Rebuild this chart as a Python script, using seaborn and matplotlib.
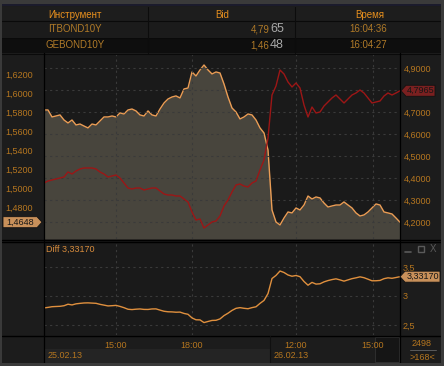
import seaborn as sns
import matplotlib.pyplot as plt
import pandas as pd
from matplotlib.patches import Rectangle, Polygon
from matplotlib.lines import Line2D
from matplotlib.ticker import FuncFormatter

# GEBOND10Y (left axis) and ITBOND10Y (right axis), one value per bar
ge_vals = [1.5823, 1.5823, 1.5750, 1.5760, 1.5771, 1.5718, 1.5687, 1.5718, 1.5666, 1.5676,
           1.5655, 1.5635, 1.5676, 1.5666, 1.5708, 1.5750, 1.5750, 1.5760, 1.5750, 1.5792,
           1.5781, 1.5823, 1.5833, 1.5813, 1.5771, 1.5760, 1.5813, 1.5771, 1.5760, 1.5833,
           1.5896, 1.5938, 1.5959, 1.5970, 1.5949, 1.6043, 1.6053, 1.6221, 1.6179, 1.6242,
           1.6294, 1.6242, 1.6200, 1.6221, 1.6210, 1.6095, 1.5959, 1.5844, 1.5802, 1.5729,
           1.5750, 1.5781, 1.5771, 1.5718, 1.5635, 1.5582, 1.5404, 1.4776, 1.4650, 1.4619,
           1.4692, 1.4755, 1.4745, 1.4797, 1.4776, 1.4828, 1.4922, 1.4891, 1.4912, 1.4902,
           1.4849, 1.4807, 1.4818, 1.4828, 1.4828, 1.4860, 1.4828, 1.4797, 1.4745, 1.4713,
           1.4724, 1.4755, 1.4797, 1.4839, 1.4828, 1.4755, 1.4745, 1.4734, 1.4692, 1.4648]
it_vals = [4.3773, 4.3864, 4.3909, 4.3955, 4.4000, 4.4045, 4.4273, 4.4182, 4.4318, 4.4409,
           4.4455, 4.4455, 4.4455, 4.4409, 4.4273, 4.4182, 4.4045, 4.4091, 4.4136, 4.4000,
           4.3773, 4.3545, 4.3500, 4.3545, 4.3545, 4.3455, 4.3500, 4.3545, 4.3545, 4.3409,
           4.3273, 4.3227, 4.3227, 4.3182, 4.3182, 4.3045, 4.2909, 4.2455, 4.2091, 4.2136,
           4.1727, 4.1864, 4.2000, 4.2045, 4.2273, 4.2727, 4.3000, 4.3364, 4.3682, 4.3727,
           4.3636, 4.3591, 4.3773, 4.3864, 4.4364, 4.4818, 4.5818, 4.7773, 4.8182, 4.8909,
           4.8727, 4.8364, 4.8136, 4.8318, 4.8091, 4.7318, 4.6773, 4.7227, 4.6955, 4.7000,
           4.7273, 4.7455, 4.7636, 4.7773, 4.7591, 4.7409, 4.7591, 4.7773, 4.7864, 4.8000,
           4.7864, 4.7636, 4.7409, 4.7455, 4.7500, 4.7727, 4.7864, 4.7773, 4.7864, 4.7965]

time_ticks = [18, 37, 63, 82.25]
time_labels = ["15:00", "18:00", "12:00", "15:00"]
day_starts = [0, 56.5]
day_labels = ["25.02.13", "26.02.13"]

instruments = ["ITBOND10Y", "GEBOND10Y"]
bids = ["4,7965", "1,4648"]
quote_times = ["16:04:36", "16:04:27"]
headers = ["Инструмент", "Bid", "Время"]

df = pd.DataFrame({"idx": range(len(ge_vals)), "ge": ge_vals, "it": it_vals})
df["diff"] = df["it"] - df["ge"]

BG = "#1c1c1c"
PANEL = "#1a1a1a"
FRAME = "#3a3a3a"
FILL = "#48453d"
ORANGE = "#eb9d55"
RED = "#9c1616"
TICK = "#b5761f"
HEAD = "#e8901e"
GRID = "#3a3a3a"

sns.set_theme(style="dark")
plt.rcParams["font.family"] = ["Liberation Sans", "DejaVu Sans"]

W, H = 444, 366
fig = plt.figure(figsize=(W / 100, H / 100), dpi=100, facecolor=BG)


def px_rect(x0, y0, x1, y1):
    return [x0 / W, 1 - y1 / H, (x1 - x0) / W, (y1 - y0) / H]


def box(x0, y0, x1, y1, fc, ec="none", z=1, lw=0.7):
    fig.add_artist(Rectangle((x0 / W, 1 - y1 / H), (x1 - x0) / W, (y1 - y0) / H,
                             transform=fig.transFigure, fc=fc, ec=ec, lw=lw, zorder=z))


def fline(x0, y0, x1, y1, color="#000000", lw=0.9, z=4):
    fig.add_artist(Line2D([x0 / W, x1 / W], [1 - y0 / H, 1 - y1 / H],
                          transform=fig.transFigure, color=color, lw=lw, zorder=z))


def ftext(x, y, s, **kw):
    fig.text(x / W, 1 - y / H, s, **kw)


def fmt_dec(d, last, step):
    # the price tag covers the tick label next to the last value
    return FuncFormatter(lambda v, p: "" if abs(v - last) < step / 2
                         else f"{v:.{d}f}".replace(".", ","))


# main panel
ax = fig.add_axes(px_rect(44, 54, 400, 239))
ax2 = ax.twinx()
axd = fig.add_axes(px_rect(44, 243, 400, 335), sharex=ax)

ge_lo, ge_hi = 1.4472, 1.6409
ax.set_facecolor(PANEL)
ax.fill_between(df["idx"], df["ge"], ge_lo, color=FILL, lw=0)
sns.lineplot(x="idx", y="ge", data=df, ax=ax, color=ORANGE, linewidth=1.0)
ax.set_ylim(ge_lo, ge_hi)
ax.set_xlim(0, len(df) - 1)
ax.set_yticks([1.46 + 0.02 * k for k in range(9)])
ax.yaxis.set_major_formatter(fmt_dec(4, df["ge"].iloc[-1], 0.02))
ax.tick_params(axis="y", length=0, pad=8, labelsize=6.5, labelcolor=TICK)
ax.tick_params(axis="x", length=0, labelbottom=False)
ax.set_xlabel("")
ax.set_ylabel("")

sns.lineplot(x="idx", y="it", data=df, ax=ax2, color=RED, linewidth=1.0)
ax2.set_ylim(4.1227, 4.9636)
ax2.set_yticks([4.2 + 0.1 * k for k in range(8)])
ax2.yaxis.set_major_formatter(fmt_dec(4, df["it"].iloc[-1], 0.1))
ax2.tick_params(axis="y", length=0, pad=3, labelsize=6.5, labelcolor=TICK)
ax2.grid(axis="y", color=GRID, linestyle=(0, (2, 3)), linewidth=0.8)
for t in time_ticks:
    ax2.axvline(t, color=GRID, linestyle=(0, (2, 3)), linewidth=0.8, zorder=1)
ax2.set_ylabel("")
ax2.set_xlabel("")

# spread panel
axd.set_facecolor(PANEL)
sns.lineplot(x="idx", y="diff", data=df, ax=axd, color="#e0903e", linewidth=1.0)
axd.set_ylim(2.33, 3.91)
axd.set_yticks([2.5, 3.0, 3.5])
axd.yaxis.set_major_formatter(FuncFormatter(lambda v, p: f"{v:g}".replace(".", ",")))
axd.yaxis.tick_right()
axd.tick_params(axis="y", length=0, pad=2, labelsize=6.5, labelcolor=TICK)
axd.set_xticks(time_ticks, time_labels)
axd.tick_params(axis="x", length=0, pad=4, labelsize=6.5, labelcolor=TICK)
axd.grid(True, color=GRID, linestyle=(0, (2, 3)), linewidth=0.8)
axd.set_xlabel("")
axd.set_ylabel("")

for a in (ax, ax2, axd):
    for s in a.spines.values():
        s.set_visible(False)

# table on top
box(0, 0, W, 4, FRAME)
box(0, 4, W, 6, "#1b1b2c")
box(2, 7, 441, 21, "#1d1d1d")
box(2, 21, 441, 37, "#1b1b1b")
box(2, 38, 441, 53, "#0e0e0e")
for y in (21, 37.5, 53.5):
    fline(2, y, 441, y, "#0a0a0a", 0.8)
for x in (148, 295):
    fline(x, 7, x, 53, "#0c0c0c", 0.8)
for x, h in zip((75, 222, 370), headers):
    ftext(x, 14.5, h, ha="center", va="center", fontsize=7, color=HEAD)
for row, (name, bid, qt) in enumerate(zip(instruments, bids, quote_times)):
    yc = 29 + 16 * row
    ftext(75, yc, name, ha="center", va="center", fontsize=7, color="#b07a28")
    ftext(269.5, yc, bid[:-2], ha="right", va="center", fontsize=7, color="#b07a28")
    ftext(270, yc - 0.5, bid[-2:], ha="left", va="center", fontsize=9, color="#a8a8a8")
    ftext(368, yc, qt, ha="center", va="center", fontsize=7, color="#b07a28")

# frame and separators
box(0, 363, W, H, FRAME, z=6)
box(0, 0, 2, H, FRAME, z=6)
box(441, 0, W, H, FRAME, z=6)
fline(43.5, 53, 43.5, 363)
fline(400, 53, 400, 363)
fline(2, 239.5, 441, 239.5, lw=1.0)
fline(2, 242, 441, 242, lw=1.0)
fline(2, 335.5, 441, 335.5, lw=1.0)

# date strip
box(44, 349, 270, 363, "#242424", z=0.5)
fline(270, 336, 270, 363, "#101010", 0.8)
box(375, 337, 399, 362, "#151515", ec="#2e2e2e", z=-1)
for d, lab in zip(day_starts, day_labels):
    xp = 44 + d * 356 / (len(df) - 1)
    ftext(xp + 4, 356, lab, ha="left", va="center", fontsize=6.5, color=TICK)

ftext(422, 343, "2498", ha="center", va="center", fontsize=6.5, color=TICK)
fline(410, 350, 436, 350, "#5a5a5a", 0.7)
ftext(422, 357, ">168<", ha="center", va="center", fontsize=6.5, color=TICK)

# spread label and window buttons
ftext(46, 249, "Diff " + f"{df['diff'].iloc[-1]:.5f}".replace(".", ","),
      ha="left", va="center", fontsize=6.5, color="#d88c3c")
fline(405, 251.5, 411, 251.5, "#5a5a5a", 1.2)
box(418, 246, 424, 252, "none", ec="#5a5a5a", z=4, lw=1.0)
ftext(433, 249, "X", ha="center", va="center", fontsize=7, color="#5a5a5a")


def ypix(a, v):
    return H - a.transData.transform((0, v))[1]


def tag(yc, x0, x1, tip, fc, text, h=11):
    if tip > x1:
        pts = [(x0, yc - h / 2), (x1, yc - h / 2), (tip, yc), (x1, yc + h / 2), (x0, yc + h / 2)]
    else:
        pts = [(tip, yc), (x0, yc - h / 2), (x1, yc - h / 2), (x1, yc + h / 2), (x0, yc + h / 2)]
    fig.add_artist(Polygon([(px / W, 1 - py / H) for px, py in pts], closed=True,
                           transform=fig.transFigure, fc=fc, ec="#111111", lw=0.6, zorder=7))
    ftext((x0 + x1) / 2, yc, text, ha="center", va="center", fontsize=6.5,
          color="#161616", zorder=8)


tag(ypix(ax, df["ge"].iloc[-1]), 3, 37, 42, "#c8905a", f"{df['ge'].iloc[-1]:.4f}".replace(".", ","))
tag(ypix(ax2, df["it"].iloc[-1]), 406, 435, 401, "#7a2020", f"{df['it'].iloc[-1]:.4f}".replace(".", ","))
tag(ypix(axd, df["diff"].iloc[-1]), 405, 440, 400, "#c8905a", f"{df['diff'].iloc[-1]:.5f}".replace(".", ","))

fig.savefig("out.png", dpi=100, facecolor=BG)
